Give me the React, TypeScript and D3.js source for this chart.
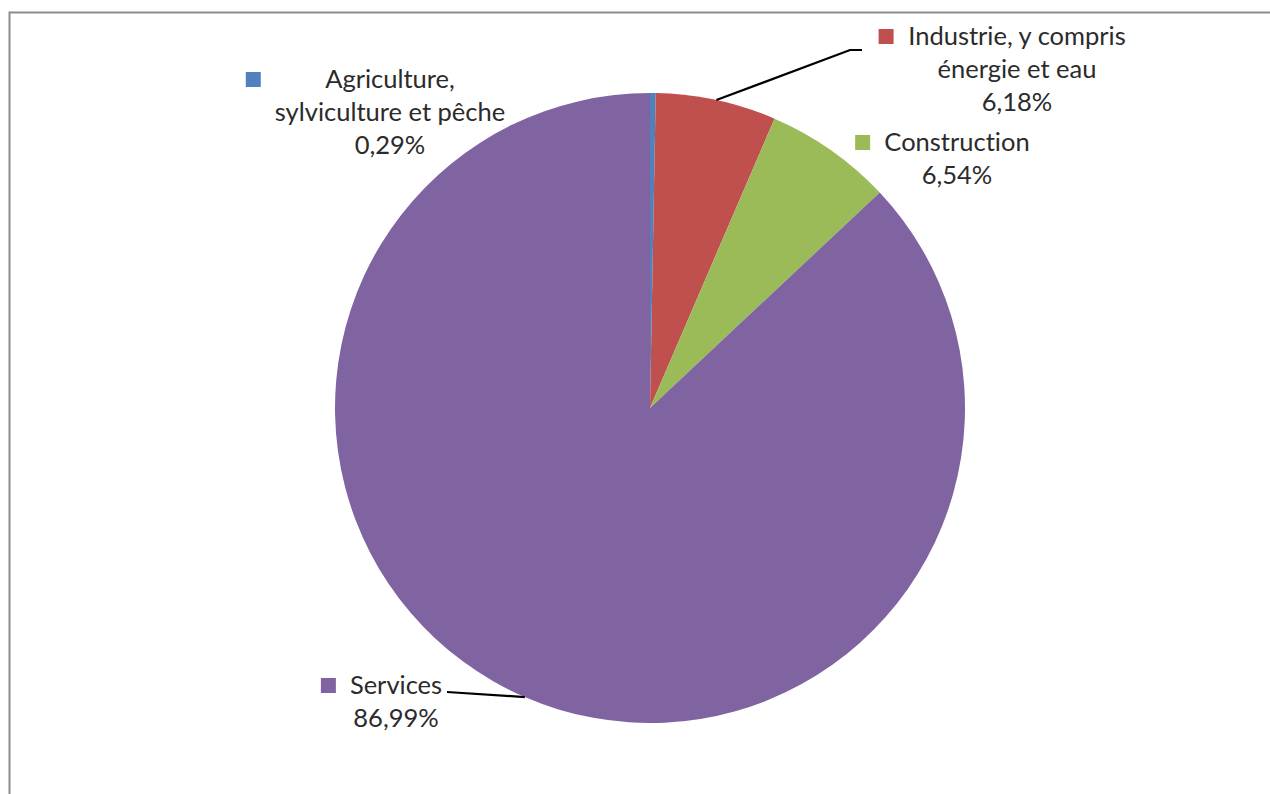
import React from 'react';
import * as d3 from 'd3';

// Répartition par secteur (en %)
const categories = [
  'Agriculture, sylviculture et pêche',
  'Industrie, y compris énergie et eau',
  'Construction',
  'Services',
];
const values = [0.29, 6.18, 6.54, 86.99];
const colors = ['#4F81BD', '#C0504D', '#9BBB59', '#8064A2'];

// how each category name is broken over lines in the label
const labelLines = [
  ['Agriculture,', 'sylviculture et pêche'],
  ['Industrie, y compris', 'énergie et eau'],
  ['Construction'],
  ['Services'],
];

// label placement: centre x of the text block, first baseline y
const labelLayout = [
  { cx: 390, y: 88 },
  { cx: 1017, y: 45 },
  { cx: 957, y: 151 },
  { cx: 396, y: 694 },
];

const WIDTH = 1270;
const HEIGHT = 794;
const CX = 650;
const CY = 408;
const RADIUS = 315;
const LINE_H = 33;
const FONT = 'Lato, "Open Sans", sans-serif';
const FONT_SIZE = 25.5;

const fmt = (v: number) => v.toFixed(2).replace('.', ',') + '%';

// rough text width so the legend key can sit left of the widest line
const measure = (() => {
  let ctx: CanvasRenderingContext2D | null = null;
  return (s: string) => {
    if (!ctx) ctx = document.createElement('canvas').getContext('2d');
    if (!ctx) return s.length * FONT_SIZE * 0.5;
    ctx.font = `${FONT_SIZE}px ${FONT}`;
    return ctx.measureText(s).width;
  };
})();

export default function App() {
  const pie = d3.pie<number>().sort(null).value(d => d);
  const arcs = pie(values);
  const arc = d3.arc<d3.PieArcDatum<number>>().innerRadius(0).outerRadius(RADIUS);
  const edge = d3.arc<d3.PieArcDatum<number>>().innerRadius(RADIUS).outerRadius(RADIUS);

  // leader lines only for the labels Excel pulled away from their slice
  const indEdge = edge.centroid(arcs[1]);
  const srvEdge = edge.centroid(arcs[3]);
  const leaders = [
    [[CX + indEdge[0], CY + indEdge[1]], [850, 50], [862, 50]],
    [[447, 692], [CX + srvEdge[0], CY + srvEdge[1]]],
  ];
  const line = d3.line();

  return (
    <svg
      width={WIDTH}
      height={HEIGHT}
      style={{ position: 'absolute', left: 0, top: 0, background: '#fff' }}
    >
      <rect x={0} y={0} width={WIDTH} height={HEIGHT} fill="#fff" />
      {/* chart frame, runs off the right and bottom of the picture */}
      <rect x={9.5} y={12.5} width={WIDTH + 20} height={HEIGHT + 20} fill="none" stroke="#8c8c8c" strokeWidth={2} />

      <g transform={`translate(${CX},${CY})`}>
        {arcs.map((a, i) => (
          <path key={categories[i]} d={arc(a) || ''} fill={colors[i]} />
        ))}
      </g>

      {leaders.map((pts, i) => (
        <path key={i} d={line(pts as [number, number][]) || ''} fill="none" stroke="#000" strokeWidth={2.2} />
      ))}

      {labelLines.map((lines, i) => {
        const { cx, y } = labelLayout[i];
        const all = [...lines, fmt(values[i])];
        const maxW = Math.max(...all.map(measure));
        const left = cx - maxW / 2;
        return (
          <g key={categories[i]}>
            <rect x={left - 29} y={y - 16} width={15} height={15} fill={colors[i]} />
            <text
              fontFamily={FONT}
              fontSize={FONT_SIZE}
              fill="#2b2b2b"
              textAnchor="middle"
              style={{ fontVariantLigatures: 'none' }}
            >
              {all.map((s, j) => (
                <tspan key={j} x={cx} y={y + j * LINE_H}>{s}</tspan>
              ))}
            </text>
          </g>
        );
      })}
    </svg>
  );
}
